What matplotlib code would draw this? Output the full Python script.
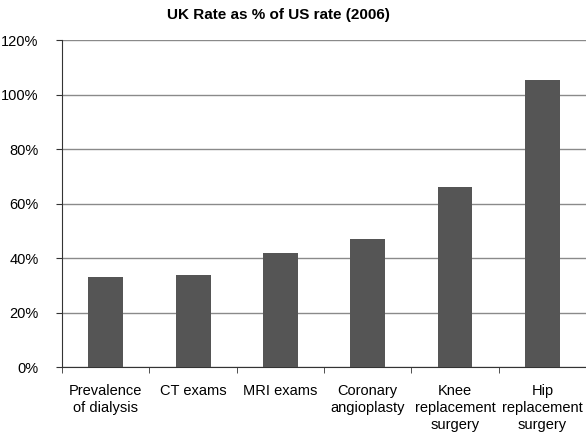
import matplotlib
matplotlib.use('Agg')
import matplotlib.pyplot as plt
import numpy as np
from matplotlib.ticker import FuncFormatter, MultipleLocator

plt.rcParams['font.family'] = ['Liberation Sans', 'DejaVu Sans']

# data
categories = ['Prevalence\nof dialysis', 'CT exams', 'MRI exams',
              'Coronary\nangioplasty', 'Knee\nreplacement\nsurgery',
              'Hip\nreplacement\nsurgery']
uk_pct_of_us = [33.2, 33.7, 42.0, 47.1, 66.2, 105.2]

fig = plt.figure(figsize=(5.86, 4.4), dpi=100)
ax = fig.add_axes([0.106, 0.165, 0.894, 0.744])

x = np.arange(len(categories))
ax.bar(x, uk_pct_of_us, width=0.4, color='#555555', zorder=3)

ax.set_xlim(-0.5, len(categories) - 0.5)
ax.set_ylim(0, 120)
ax.yaxis.set_major_locator(MultipleLocator(20))
ax.yaxis.set_major_formatter(FuncFormatter(lambda v, p: '%d%%' % v))
ax.grid(axis='y', color='#8a8a8a', linewidth=1.0, zorder=0)

# category labels centred, ticks on the boundaries
ax.set_xticks(x)
ax.set_xticklabels(categories, fontsize=10.5, linespacing=1.25)
ax.tick_params(axis='x', length=0, pad=12)
ax.set_xticks(np.arange(len(categories) + 1) - 0.5, minor=True)
ax.tick_params(axis='x', which='minor', length=4, color='#333333')
ax.tick_params(axis='y', length=4, pad=13, labelsize=10.5, color='#333333')

for s in ['top', 'right']:
    ax.spines[s].set_visible(False)
for s in ['left', 'bottom']:
    ax.spines[s].set_color('#333333')

fig.text(0.476, 0.965, 'UK Rate as % of US rate (2006)', ha='center',
         va='center', fontsize=11, fontweight='bold')

fig.savefig('out.png', dpi=100)
